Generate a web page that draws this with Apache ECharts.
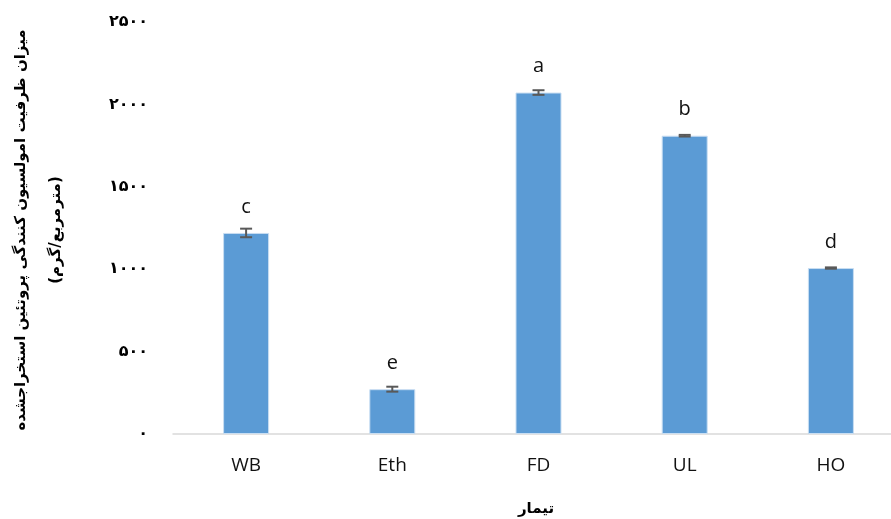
<!DOCTYPE html>
<html>
<head>
<meta charset="utf-8">
<script src="https://cdn.jsdelivr.net/npm/echarts@6/dist/echarts.min.js"></script>
<style>
  html, body { margin: 0; padding: 0; background: #fff; }
  #chart { width: 891px; height: 519px; }
</style>
</head>
<body>
<div id="chart"></div>
<script>
// treatments and measured values
const categories = ['WB', 'Eth', 'FD', 'UL', 'HO']
const values = [1220, 272, 2072, 1810, 1007]
const errors = [26, 15, 14, 5, 4]
const letters = ['c', 'e', 'a', 'b', 'd']
const tickLabels = {0: '۰', 500: '۵۰۰', 1000: '۱۰۰۰', 1500: '۱۵۰۰', 2000: '۲۰۰۰', 2500: '۲۵۰۰'}
const yTitle = 'میزان ظرفیت امولسیون کنندگی پروتئین استخراجشده\n(مترمربع/گرم)'
const xTitle = 'تیمار'

const myChart = echarts.init(document.getElementById('chart'))

const errData = categories.map((c, i) => [i, values[i] - errors[i], values[i] + errors[i]])

myChart.setOption({
  animation: false,
  grid: { left: 173, width: 731, top: 22, height: 412, outerBoundsMode: 'none', containLabel: false },
  xAxis: {
    type: 'category',
    data: categories,
    axisLine: { lineStyle: { color: '#d9d9d9', width: 1.5 } },
    axisTick: { show: false },
    axisLabel: { color: '#111', fontSize: 19, margin: 22, fontFamily: 'Open Sans' },
  },
  yAxis: {
    type: 'value',
    min: 0,
    max: 2500,
    interval: 500,
    splitLine: { show: false },
    axisLine: { show: false },
    axisLabel: {
      color: '#000',
      fontSize: 16,
      fontWeight: 'bold',
      margin: 25,
      fontFamily: 'DejaVu Sans',
      formatter: (v) => tickLabels[v],
    },
  },
  graphic: [
    {
      type: 'text',
      x: 39,
      y: 230,
      rotation: Math.PI / 2,
      style: {
        text: yTitle,
        fontSize: 15,
        fontWeight: 'bold',
        fontFamily: 'DejaVu Sans',
        fill: '#000',
        lineHeight: 35,
        align: 'center',
        verticalAlign: 'middle',
      },
    },
    {
      type: 'text',
      x: 536,
      y: 509,
      style: {
        text: xTitle,
        fontSize: 15,
        fontWeight: 'bold',
        fontFamily: 'DejaVu Sans',
        fill: '#000',
        align: 'center',
        verticalAlign: 'middle',
      },
    },
  ],
  series: [
    {
      type: 'bar',
      data: values,
      barWidth: 46,
      itemStyle: { color: '#5b9bd5', borderColor: '#c9def2', borderWidth: 1 },
      label: {
        show: true,
        position: 'top',
        distance: 16,
        fontSize: 20,
        color: '#111',
        fontFamily: 'Open Sans',
        formatter: (p) => letters[p.dataIndex],
      },
    },
    {
      type: 'custom',
      data: errData,
      z: 10,
      renderItem: function (params, api) {
        const lo = api.coord([api.value(0), api.value(1)])
        const hi = api.coord([api.value(0), api.value(2)])
        const hw = 6
        const st = { stroke: '#595959', lineWidth: 2 }
        return {
          type: 'group',
          children: [
            { type: 'line', shape: { x1: lo[0], y1: lo[1], x2: hi[0], y2: hi[1] }, style: st },
            { type: 'line', shape: { x1: lo[0] - hw, y1: lo[1], x2: lo[0] + hw, y2: lo[1] }, style: st },
            { type: 'line', shape: { x1: hi[0] - hw, y1: hi[1], x2: hi[0] + hw, y2: hi[1] }, style: st },
          ],
        }
      },
    },
  ],
})
</script>
</body>
</html>
